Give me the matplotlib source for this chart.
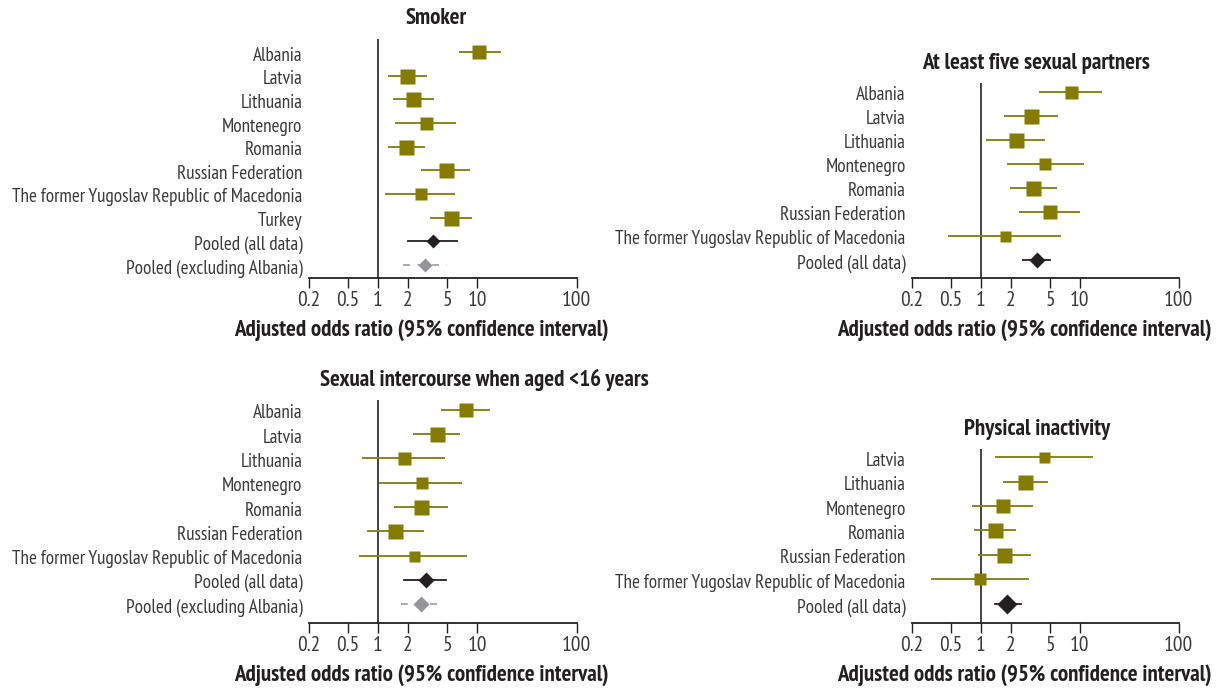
import numpy as np
import matplotlib
matplotlib.use('Agg')
from matplotlib import pyplot as plt
from matplotlib.transforms import offset_copy

plt.rcParams['font.family'] = ['PT Sans Narrow', 'DejaVu Sans']

W, H = 1220, 691

#---- Data (odds ratio, lower and upper 95% CI)

smoker_labels = ['Albania', 'Latvia', 'Lithuania', 'Montenegro', 'Romania',
                 'Russian Federation', 'The former Yugoslav Republic of Macedonia',
                 'Turkey', 'Pooled (all data)', 'Pooled (excluding Albania)']
smoker_or = [10.5, 1.95, 2.25, 3.04, 1.91, 4.83, 2.69, 5.42, 3.55, 2.97]
smoker_lo = [6.7, 1.28, 1.45, 1.53, 1.28, 2.81, 1.22, 3.39, 2.00, 1.78]
smoker_hi = [16.8, 3.06, 3.55, 6.04, 2.90, 8.36, 5.82, 8.70, 6.24, 4.99]
smoker_wt = [14, 15, 15, 13, 15, 15, 12, 15, 14, 14]

partners_labels = ['Albania', 'Latvia', 'Lithuania', 'Montenegro', 'Romania',
                   'Russian Federation', 'The former Yugoslav Republic of Macedonia',
                   'Pooled (all data)']
partners_or = [8.2, 3.24, 2.28, 4.45, 3.39, 5.00, 1.76, 3.72]
partners_lo = [3.99, 1.75, 1.16, 1.89, 2.01, 2.48, 0.478, 2.68]
partners_hi = [16.3, 5.85, 4.35, 10.7, 5.75, 9.77, 6.3, 4.96]
partners_wt = [13, 15, 15, 12, 15, 14, 11, 16]

sex16_labels = ['Albania', 'Latvia', 'Lithuania', 'Montenegro', 'Romania',
                'Russian Federation', 'The former Yugoslav Republic of Macedonia',
                'Pooled (all data)', 'Pooled (excluding Albania)']
sex16_or = [7.8, 3.92, 1.82, 2.75, 2.71, 1.48, 2.30, 3.04, 2.69]
sex16_lo = [4.4, 2.30, 0.70, 1.06, 1.48, 0.79, 0.66, 1.82, 1.69]
sex16_hi = [13.1, 6.59, 4.65, 6.79, 4.94, 2.86, 7.8, 4.87, 4.44]
sex16_wt = [14, 15, 13, 12, 15, 15, 11, 16, 16]

inact_labels = ['Latvia', 'Lithuania', 'Montenegro', 'Romania',
                'Russian Federation', 'The former Yugoslav Republic of Macedonia',
                'Pooled (all data)']
inact_or = [4.38, 2.81, 1.67, 1.40, 1.72, 0.98, 1.83]
inact_lo = [1.41, 1.72, 0.836, 0.88, 0.96, 0.32, 1.39]
inact_hi = [13.2, 4.63, 3.29, 2.21, 3.16, 2.97, 2.52]
inact_wt = [11, 15, 14, 15, 15, 12, 20]

xticks = [0.2, 0.5, 1, 2, 5, 10, 100]
xtick_labels = ['0.2', '0.5', '1', '2', '5', '10', '100']
xlabel = 'Adjusted odds ratio (95% confidence interval)'

olive = '#857b00'
olive_line = '#8c8418'
dark = '#231f20'
grey = '#939598'
text_col = '#3a3a3a'
diamond = [(0, 1), (1, 0), (0, -1), (-1, 0)]



#---- Define a function to draw one forest panel

def plot_forest(ax, title, labels, orr, lo, hi, wt, b, t, title_x, label_x):

    n = len(labels)
    y = np.arange(n)
    px2pt = 72.0 / 100.0
    fig = ax.figure

    ax.axvline(1, color='#333333', lw=1.3, zorder=1)

    for i in range(n):
        lab = labels[i]
        if lab.startswith('Pooled (excluding'):
            ax.plot([lo[i], hi[i]], [y[i], y[i]], color='#a7a9ac', lw=1.4,
                    dashes=(3.5, 4), zorder=2)
            ax.plot(orr[i], y[i], marker=diamond, ms=wt[i] * px2pt,
                    color=grey, mec='none', zorder=3)
        elif lab.startswith('Pooled'):
            ax.plot([lo[i], hi[i]], [y[i], y[i]], color=dark, lw=1.3, zorder=2)
            ax.plot(orr[i], y[i], marker=diamond, ms=wt[i] * px2pt,
                    color=dark, mec='none', zorder=3)
        else:
            ax.plot([lo[i], hi[i]], [y[i], y[i]], color=olive_line, lw=1.4, zorder=2)
            ax.plot(orr[i], y[i], marker='s', ms=wt[i] * px2pt, color=olive,
                    mec='none', zorder=3)

    ax.set_xscale('log')
    ax.set_xlim(0.2, 100)
    ax.set_ylim(n - 1 + b, -t)
    ax.set_xticks(xticks)
    ax.set_xticklabels(xtick_labels)
    ax.minorticks_off()
    ax.set_yticks([])

    # row labels, set a little below the marker centres as in the original
    lab_trans = offset_copy(ax.get_yaxis_transform(), fig=fig, x=-6, y=-3.5, units='dots')
    for i in range(n):
        ax.text(0, y[i], labels[i], transform=lab_trans, ha='right', va='center',
                fontsize=13.8, color=text_col)

    for s in ['top', 'right', 'left']:
        ax.spines[s].set_visible(False)
    ax.spines['bottom'].set_linewidth(1.3)
    ax.spines['bottom'].set_color('#231f20')

    ax.tick_params(axis='x', direction='out', length=7.5, width=1.0,
                   color='#231f20', labelsize=15.5, labelcolor=text_col, pad=2)

    ax.text(title_x, 1, title, transform=offset_copy(ax.transAxes, fig=fig,
            x=0, y=20, units='dots'), ha='center', va='center',
            fontsize=16.5, fontweight='bold', color=dark)
    ax.text(label_x, 0, xlabel, transform=offset_copy(ax.transAxes, fig=fig,
            x=0, y=-52, units='dots'), ha='center', va='center',
            fontsize=16.5, fontweight='bold', color=dark)

    return ax



#---- Script

if __name__ == '__main__':

    fig = plt.figure(figsize=(W / 100, H / 100), dpi=100)

    def rect(x0, x1, y0, y1):
        return [x0 / W, 1 - y1 / H, (x1 - x0) / W, (y1 - y0) / H]

    ax1 = fig.add_axes(rect(308.5, 576.5, 39, 278))
    ax2 = fig.add_axes(rect(911.7, 1178.7, 83, 278))
    ax3 = fig.add_axes(rect(308.5, 576.5, 400, 623))
    ax4 = fig.add_axes(rect(911.7, 1178.7, 449, 623))

    plot_forest(ax1, 'Smoker', smoker_labels, smoker_or, smoker_lo, smoker_hi,
                smoker_wt, 0.55, 0.55, 0.476, 0.42)
    plot_forest(ax2, 'At least five sexual partners', partners_labels, partners_or,
                partners_lo, partners_hi, partners_wt, 0.75, 0.375, 0.467, 0.422)
    plot_forest(ax3, 'Sexual intercourse when aged <16 years', sex16_labels, sex16_or,
                sex16_lo, sex16_hi, sex16_wt, 0.78, 0.41, 0.655, 0.42)
    plot_forest(ax4, 'Physical inactivity', inact_labels, inact_or, inact_lo,
                inact_hi, inact_wt, 0.78, 0.33, 0.469, 0.422)

    plt.savefig('out.png', dpi=100)
